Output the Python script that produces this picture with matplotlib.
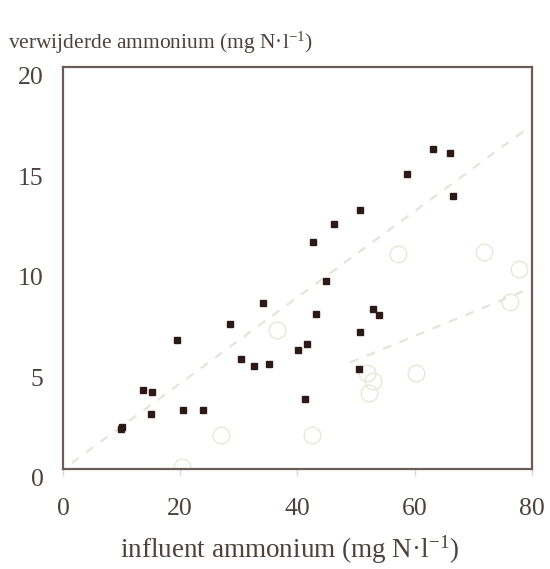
import matplotlib
matplotlib.use("Agg")
import matplotlib.pyplot as plt

plt.rcParams['font.family'] = ['Liberation Serif', 'DejaVu Serif']
plt.rcParams['mathtext.fontset'] = 'custom'
plt.rcParams['mathtext.rm'] = 'Liberation Serif'
plt.rcParams['mathtext.it'] = 'Liberation Serif:italic'

# measured series (filled squares)
infl_sq = [9.9, 10.1, 13.7, 15.2, 15.0, 19.4, 20.5, 23.9, 28.5, 30.4, 32.6, 35.2, 34.1,
           40.1, 41.6, 41.3, 42.7, 44.9, 43.2, 46.2, 50.7, 50.7, 50.5, 52.8, 53.9,
           58.7, 63.1, 66.0, 66.6]
rem_sq = [2.0, 2.1, 3.93, 3.83, 2.74, 6.42, 2.94, 2.94, 7.2, 5.47, 5.12, 5.22, 8.26,
          5.92, 6.2, 3.48, 11.3, 9.35, 7.7, 12.2, 12.9, 6.8, 4.97, 7.95, 7.66,
          14.7, 15.9, 15.7, 13.6]

# second series (open circles)
infl_ci = [20.3, 27.0, 36.5, 42.4, 51.8, 52.2, 52.8, 60.3, 57.1, 71.8, 77.8, 76.3]
rem_ci = [0.1, 1.7, 6.9, 1.7, 4.8, 3.8, 4.4, 4.8, 10.7, 10.8, 9.95, 8.3]

# trend lines
trend1_x = [1.5, 79.0]
trend1_y = [0.3, 16.9]
trend2_x = [49.0, 79.0]
trend2_y = [5.3, 8.9]

txt_col = '#4d423d'
spine_col = '#6b5d55'

fig = plt.figure(figsize=(5.5, 5.69), dpi=100)
ax = fig.add_axes([0.1145, 0.1757, 0.8527, 0.7065])

ax.plot(trend1_x, trend1_y, linestyle=(0, (4, 4)), color='#e6e4da', lw=1.6, zorder=1)
ax.plot(trend2_x, trend2_y, linestyle=(0, (4, 4)), color='#e6e4da', lw=1.6, zorder=1)

ax.plot(infl_ci, rem_ci, 'o', ms=12, mfc='none', mec='#ebe7d6', mew=1.0,
        linestyle='none', zorder=2)
ax.plot(infl_sq, rem_sq, 's', ms=4.8, mfc='#2b1a15', mec='#2b1a15',
        linestyle='none', zorder=3)

ax.set_xlim(0, 80)
ax.set_ylim(0, 20)
ax.set_xticks([0, 20, 40, 60, 80])
ax.set_yticks([0, 5, 10, 15, 20])

for s in ax.spines.values():
    s.set_color(spine_col)
    s.set_linewidth(1.6)

ax.tick_params(axis='x', direction='out', length=5, width=1, color='#dcd8d0',
               labelsize=18.5, labelcolor=txt_col, pad=16)
ax.tick_params(axis='y', length=0, labelsize=18.5, labelcolor=txt_col, pad=14)
# y labels hang just below their tick position
for lbl in ax.get_yticklabels():
    lbl.set_va('top')

fig.text(0.014, 0.914, 'verwijderde ammonium (mg N·l$^{-1}$)', fontsize=15.5,
         color=txt_col, ha='left', va='baseline')
fig.text(0.527, 0.02, 'influent ammonium (mg N·l$^{-1}$)', fontsize=19.5,
         color=txt_col, ha='center', va='baseline')

fig.savefig('out.png', dpi=100)
